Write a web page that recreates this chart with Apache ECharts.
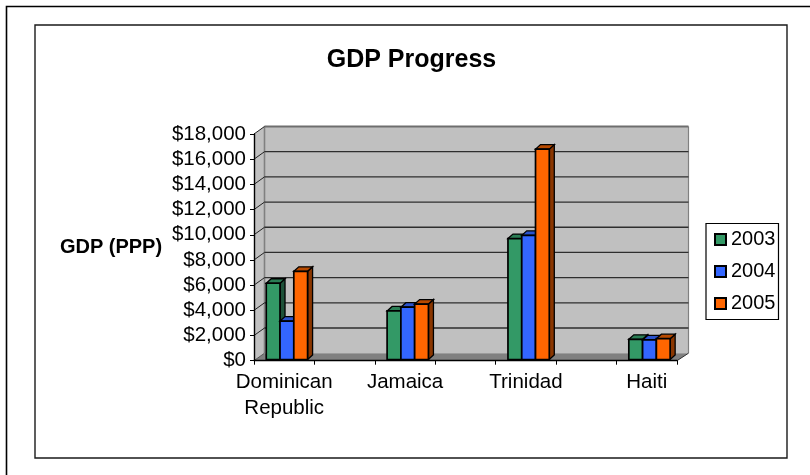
<!DOCTYPE html>
<html>
<head>
<meta charset="utf-8">
<style>html,body{margin:0;padding:0;background:#fff}#chart{width:810px;height:475px}</style>
<script src="https://cdn.jsdelivr.net/npm/echarts@6/dist/echarts.min.js"></script>
</head>
<body>
<div id="chart"></div>
<script>
// Spacer categories keep one empty band between countries.
const categories = ['Dominican\nRepublic', '', 'Jamaica', '', 'Trinidad', '', 'Haiti'];
const gdp2003 = [6150, null, 3950, null, 9700, null, 1700];
const gdp2004 = [3150, null, 4250, null, 9950, null, 1650];
const gdp2005 = [7100, null, 4500, null, 16800, null, 1750];
const yTicks = [0, 2000, 4000, 6000, 8000, 10000, 12000, 14000, 16000, 18000];

const DEPTH_X = 10.5, DEPTH_Y = -7.5;   // wall depth of the pseudo-3D box
const BAR_DX = 5, BAR_DY = -4.5;        // depth of each column

const poly = (points, fill, stroke, lw) => ({
  type: 'polygon',
  shape: { points },
  style: { fill, stroke: stroke || 'none', lineWidth: lw || 0, lineJoin: 'miter' }
});
const line = (x1, y1, x2, y2, stroke, lw) => ({
  type: 'line',
  shape: { x1, y1, x2, y2 },
  style: { stroke, lineWidth: lw }
});

// Side wall, back wall, floor and gridlines.
function renderBox(params, api) {
  const c = params.coordSys;
  const v = api.value(1);
  const y = api.coord([0, v])[1];
  const l = c.x, r = c.x + c.width;
  const kids = [];
  if (params.dataIndex === 0) {
    const t = c.y, b = c.y + c.height;
    kids.push(poly([[l, t], [l + DEPTH_X, t + DEPTH_Y], [l + DEPTH_X, b + DEPTH_Y], [l, b]], '#c0c0c0'));
    kids.push(poly([[l + DEPTH_X, t + DEPTH_Y], [r + DEPTH_X + 1, t + DEPTH_Y], [r + DEPTH_X + 1, b + DEPTH_Y], [l + DEPTH_X, b + DEPTH_Y]], '#c0c0c0'));
    kids.push(poly([[l, b], [l + DEPTH_X, b + DEPTH_Y], [r + DEPTH_X + 1, b + DEPTH_Y], [r, b]], '#808080'));
    kids.push(line(l + DEPTH_X, b + DEPTH_Y, l + DEPTH_X, t + DEPTH_Y, '#808080', 1.6));
    kids.push(line(r + DEPTH_X + 1, b + DEPTH_Y, r + DEPTH_X + 1, t + DEPTH_Y, '#808080', 1.2));
    kids.push(line(r, b, r + DEPTH_X + 1, b + DEPTH_Y, '#333', 1));
  }
  const backColor = v === 18000 ? '#6e6e6e' : '#2e2e2e';
  if (v > 0) kids.push(line(l + DEPTH_X, y + DEPTH_Y, r + DEPTH_X + 1, y + DEPTH_Y, backColor, v === 18000 ? 2 : 1.3));
  kids.push(line(l, y, l + DEPTH_X, y + DEPTH_Y, v === 0 ? '#555' : '#222', 1));
  return { type: 'group', children: kids };
}

// One column of a cluster: front face, top face and side face.
function columnRenderer(slot, front, top, side) {
  return function (params, api) {
    const cat = api.value(0), val = api.value(1);
    const base = api.coord([cat, 0]);
    const head = api.coord([cat, val]);
    const w = api.size([1, 0])[0] * 0.228;
    const x0 = base[0] - 1.5 * w + 2.7 + slot * w;
    const x1 = x0 + w;
    const y0 = base[1] - 1.2, y1 = head[1];
    const edge = '#000';
    return {
      type: 'group',
      children: [
        poly([[x1, y0], [x1 + BAR_DX, y0 + BAR_DY], [x1 + BAR_DX, y1 + BAR_DY], [x1, y1]], side, edge, 1.3),
        poly([[x0, y1], [x0 + BAR_DX, y1 + BAR_DY], [x1 + BAR_DX, y1 + BAR_DY], [x1, y1]], top, edge, 1.3),
        poly([[x0, y0], [x0, y1], [x1, y1], [x1, y0]], front, edge, 1.7)
      ]
    };
  };
}

const points = values => values.map((v, i) => [i, v]).filter(p => p[1] !== null);

const chart = echarts.init(document.getElementById('chart'), null, { renderer: 'canvas' });
chart.setOption({
  animation: false,
  backgroundColor: '#fff',
  textStyle: { fontFamily: '"Liberation Sans", Arial, sans-serif' },
  title: {
    text: 'GDP Progress',
    left: 406.5, top: 43, textAlign: 'center',
    textStyle: { fontFamily: '"Liberation Sans", Arial, sans-serif', fontSize: 25, fontWeight: 'bold', color: '#000' }
  },
  grid: { left: 254, top: 134, width: 423, height: 226.7, containLabel: false },
  legend: {
    left: 706, top: 223.5, orient: 'vertical',
    data: ['2003', '2004', '2005'],
    itemWidth: 11, itemHeight: 11, itemGap: 12,
    padding: [6, 3, 6, 8],
    borderColor: '#000', borderWidth: 1.2, backgroundColor: '#fff',
    icon: 'rect',
    selectedMode: false,
    textStyle: { fontSize: 20, color: '#000', fontFamily: '"Liberation Sans", Arial, sans-serif' }
  },
  xAxis: {
    type: 'category',
    data: categories,
    z: 5,
    axisLine: { lineStyle: { color: '#000', width: 1.4 } },
    axisTick: { show: true, length: 4, alignWithLabel: false, lineStyle: { color: '#000', width: 1 } },
    axisLabel: { interval: 0, margin: 9, fontSize: 20.5, lineHeight: 26, color: '#000' },
    splitLine: { show: false }
  },
  yAxis: {
    type: 'value',
    min: 0, max: 18000, interval: 2000,
    z: 5,
    name: 'GDP (PPP)',
    nameLocation: 'middle',
    nameRotate: 0,
    nameGap: 143,
    nameTextStyle: { fontSize: 20, fontWeight: 'bold', color: '#000', align: 'center', verticalAlign: 'middle' },
    axisLine: { show: true, lineStyle: { color: '#000', width: 1.4 } },
    axisTick: { show: true, length: 4, lineStyle: { color: '#000', width: 1 } },
    axisLabel: {
      margin: 8, fontSize: 20.5, color: '#000',
      formatter: v => '$' + v.toLocaleString('en-US')
    },
    splitLine: { show: false }
  },
  series: [
    { type: 'custom', silent: true, z: 1, renderItem: renderBox, data: yTicks.map(v => [0, v]), encode: { x: 0, y: 1 } },
    { name: '2003', type: 'custom', z: 2, itemStyle: { color: '#339966', borderColor: '#000', borderWidth: 1.4 }, renderItem: columnRenderer(0, '#339966', '#2a7d54', '#1d5239'), data: points(gdp2003), encode: { x: 0, y: 1 } },
    { name: '2004', type: 'custom', z: 2, itemStyle: { color: '#3366ff', borderColor: '#000', borderWidth: 1.4 }, renderItem: columnRenderer(1, '#3366ff', '#2a52cc', '#1c3a8f'), data: points(gdp2004), encode: { x: 0, y: 1 } },
    { name: '2005', type: 'custom', z: 2, itemStyle: { color: '#ff6600', borderColor: '#000', borderWidth: 1.4 }, renderItem: columnRenderer(2, '#ff6600', '#b84a00', '#8a3600'), data: points(gdp2005), encode: { x: 0, y: 1 } }
  ],
  graphic: [
    { type: 'polyline', silent: true, shape: { points: [[6.5, 475], [6.5, 6.5], [810, 6.5]] }, style: { stroke: '#000', lineWidth: 1.6, fill: 'none' } },
    { type: 'rect', silent: true, shape: { x: 35, y: 25, width: 752, height: 433 }, style: { stroke: '#1a1a1a', lineWidth: 1.4, fill: 'none' } }
  ]
});
</script>
</body>
</html>
